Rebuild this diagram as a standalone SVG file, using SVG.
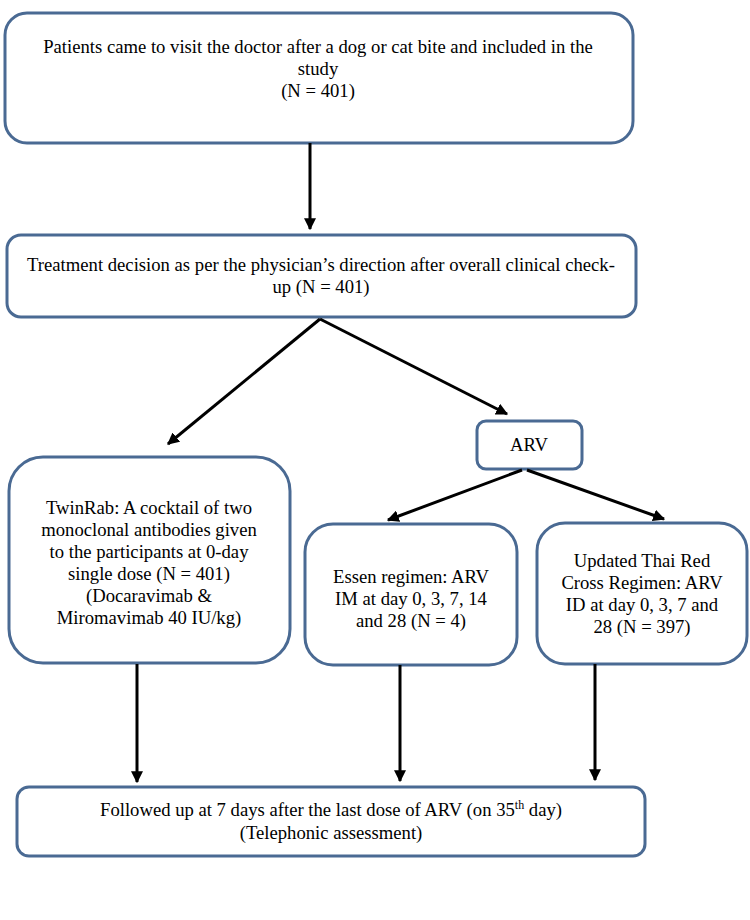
<svg xmlns="http://www.w3.org/2000/svg" width="750" height="920" viewBox="0 0 750 920">
<defs>
<style>
.box{fill:#fff;stroke:#4a6a93;stroke-width:3}
.t{font-family:"Liberation Serif","Times New Roman",serif;font-size:18.67px;fill:#000;text-anchor:middle}
.c{stroke:#000;stroke-width:3;fill:none}
</style>
<marker id="ah" viewBox="0 0 10 10" refX="9" refY="5" markerWidth="4" markerHeight="4" orient="auto" markerUnits="strokeWidth">
<path d="M0,0 L10,5 L0,10 z" fill="#000"/>
</marker>
</defs>
<rect width="750" height="920" fill="#fff"/>
<g id="n1">
<rect class="box" x="5" y="13" width="628" height="130" rx="22"/>
<text class="t" x="318" y="53">Patients came to visit the doctor after a dog or cat bite and included in the</text>
<text class="t" x="318" y="75">study</text>
<text class="t" x="318" y="97">(N = 401)</text>
</g>
<g id="n2">
<rect class="box" x="7" y="235" width="629" height="82" rx="14"/>
<text class="t" x="321" y="271">Treatment decision as per the physician’s direction after overall clinical check-</text>
<text class="t" x="321" y="293">up (N = 401)</text>
</g>
<g id="n3">
<rect class="box" x="477" y="421" width="105" height="48" rx="9"/>
<text class="t" x="529" y="451">ARV</text>
</g>
<g id="n4">
<rect class="box" x="9" y="457" width="281" height="206" rx="34"/>
<text class="t" x="149" y="514">TwinRab: A cocktail of two</text>
<text class="t" x="149" y="536">monoclonal antibodies given</text>
<text class="t" x="149" y="558">to the participants at 0-day</text>
<text class="t" x="149" y="580">single dose (N = 401)</text>
<text class="t" x="149" y="602">(Docaravimab &amp;</text>
<text class="t" x="149" y="624">Miromavimab 40 IU/kg)</text>
</g>
<g id="n5">
<rect class="box" x="305" y="524" width="212" height="141" rx="28"/>
<text class="t" x="411" y="583">Essen regimen: ARV</text>
<text class="t" x="411" y="605">IM at day 0, 3, 7, 14</text>
<text class="t" x="411" y="627">and 28 (N = 4)</text>
</g>
<g id="n6">
<rect class="box" x="537" y="523" width="210" height="141" rx="28"/>
<text class="t" x="642" y="567">Updated Thai Red</text>
<text class="t" x="642" y="589">Cross Regimen: ARV</text>
<text class="t" x="642" y="611">ID at day 0, 3, 7 and</text>
<text class="t" x="642" y="633">28 (N = 397)</text>
</g>
<g id="n7">
<rect class="box" x="17" y="787" width="628" height="69" rx="12"/>
<text class="t" x="331" y="816">Followed up at 7 days after the last dose of ARV (on 35<tspan font-size="12" dy="-7">th</tspan><tspan dy="7"> day)</tspan></text>
<text class="t" x="331" y="839">(Telephonic assessment)</text>
</g>
<g id="connectors">
<line class="c" x1="310" y1="143" x2="310" y2="229" marker-end="url(#ah)"/>
<line class="c" x1="320" y1="319" x2="168" y2="444" marker-end="url(#ah)"/>
<line class="c" x1="320" y1="319" x2="507" y2="414" marker-end="url(#ah)"/>
<line class="c" x1="522" y1="470" x2="388" y2="520" marker-end="url(#ah)"/>
<line class="c" x1="527" y1="470" x2="664" y2="519" marker-end="url(#ah)"/>
<line class="c" x1="137" y1="664" x2="137" y2="782" marker-end="url(#ah)"/>
<line class="c" x1="400" y1="665" x2="400" y2="781" marker-end="url(#ah)"/>
<line class="c" x1="595" y1="664" x2="595" y2="780" marker-end="url(#ah)"/>
</g>
</svg>
